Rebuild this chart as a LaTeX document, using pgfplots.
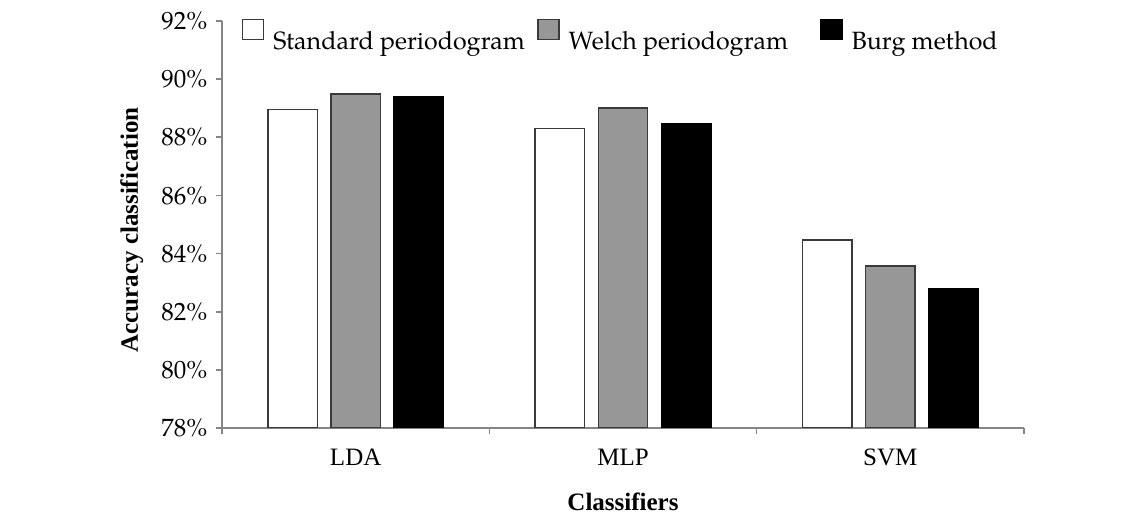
\documentclass[border=0pt]{standalone}
\usepackage{fontspec}
\setmainfont{Liberation Serif}
\newfontfamily\pal{texgyrepagella}[Extension=.otf, UprightFont=*-regular, BoldFont=*-bold]
\usepackage{pgfplots}
\pgfplotsset{compat=1.18}
\definecolor{axgray}{HTML}{858585}
\definecolor{barline}{HTML}{3A3A3A}
\definecolor{midgray}{HTML}{979797}
\begin{document}
\fontsize{12.5}{15}\selectfont
\begin{tikzpicture}
\begin{axis}[
  name=ax,
  width=401pt, height=203.5pt, scale only axis,
  ybar, bar width=0.185,
  xmin=-0.5, xmax=2.5, ymin=78, ymax=92,
  xtick={0,1,2}, xticklabels={LDA,MLP,SVM},
  xticklabel style={yshift=-3pt},
  ytick={78,80,...,92},
  yticklabel={\pal\pgfmathprintnumber[assume math mode=true]{\tick}\%},
  axis x line*=bottom, axis y line*=left,
  axis line style={draw=axgray, line width=1pt},
  tick align=outside,
  major x tick style={draw=none},
  minor xtick={-0.5,0.5,1.5,2.5},
  minor tick length=3pt, major tick length=3pt,
  every tick/.style={axgray, line width=0.8pt},
  ylabel={\bfseries Accuracy classification},
  xlabel={\bfseries Classifiers},
  ylabel style={at={(axis description cs:-0.1125,0.4865)}, anchor=center},
  xlabel style={at={(axis description cs:0.5,-0.2015)}, anchor=base},
  legend style={at={(axis description cs:0.0249,1.005)}, anchor=north west,
    draw=none, fill=none, inner sep=0pt, outer sep=0pt,
    nodes={inner sep=0pt, font=\pal},
    legend columns=3,
    /tikz/every odd column/.append style={column sep=4.5pt},
    /tikz/every even column/.append style={column sep=6pt}},
  mylegend/.style={legend image code/.code={\draw[##1] (0pt,1.5pt) rectangle (10.5pt,11.5pt);}},
]
\addplot[fill=white, draw=barline, line width=0.75pt, bar shift=-0.236, mylegend]
  coordinates {(0,88.95) (1,88.31) (2,84.47)};
\addlegendentry{Standard periodogram}
\addplot[fill=midgray, draw=barline, line width=0.75pt, bar shift=0, mylegend]
  coordinates {(0,89.49) (1,89.00) (2,83.58)};
\addlegendentry{Welch periodogram\rule{10pt}{0pt}}
\addplot[fill=black, draw=black, line width=0.75pt, bar shift=0.236, mylegend]
  coordinates {(0,89.40) (1,88.46) (2,82.80)};
\addlegendentry{Burg method}
\end{axis}
\pgfresetboundingbox
\path[use as bounding box] ([shift={(-111pt,-42.5pt)}]ax.south west) rectangle ([shift={(60.5pt,10.5pt)}]ax.north east);
\end{tikzpicture}
\end{document}
